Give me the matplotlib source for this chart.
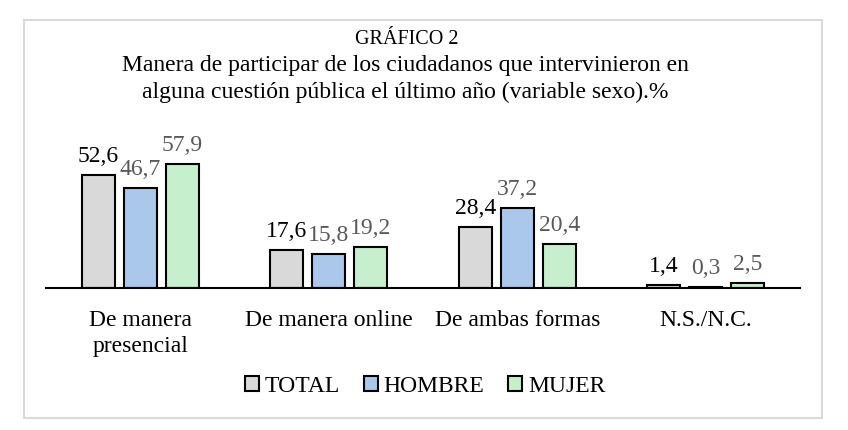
import numpy as np
import matplotlib
matplotlib.use("Agg")
import matplotlib.pyplot as plt
from matplotlib.patches import Rectangle

plt.rcParams['font.family'] = ['Liberation Serif', 'DejaVu Serif']

categorias = ['De manera\npresencial', 'De manera online', 'De ambas formas', 'N.S./N.C.']
total = [52.6, 17.6, 28.4, 1.4]
hombre = [46.7, 15.8, 37.2, 0.3]
mujer = [57.9, 19.2, 20.4, 2.5]
series = ['TOTAL', 'HOMBRE', 'MUJER']
colores = ['#d9d9d9', '#a9c8ec', '#c6efce']
color_etiqueta = ['black', '#595959', '#595959']

fig = plt.figure(figsize=(8.48, 4.30), dpi=100)
# marco gris
fig.patches.append(Rectangle((24 / 848, 12 / 430), 798 / 848, 398 / 430,
                             transform=fig.transFigure, fill=False,
                             edgecolor='#d9d9d9', linewidth=1.5))

ax = fig.add_axes([46 / 848, 142 / 430, 754 / 848, 129 / 430])
x = np.arange(len(categorias))
paso = 0.223
ancho = 0.175
for i, (vals, nombre) in enumerate(zip([total, hombre, mujer], series)):
    pos = x + (i - 1) * paso
    barras = ax.bar(pos, vals, ancho, color=colores[i], edgecolor='black',
                    linewidth=1.5, label=nombre)
    for p, v in zip(pos, vals):
        ax.text(p, v + 3.7, f'{v:.1f}'.replace('.', ','), ha='center', va='bottom',
                fontsize=17, color=color_etiqueta[i])

ax.set_xlim(-0.5, 3.5)
ax.set_ylim(0, 60)
ax.set_yticks([])
for s in ['top', 'right', 'left']:
    ax.spines[s].set_visible(False)
ax.spines['bottom'].set_linewidth(1.5)
ax.set_xticks(x)
ax.set_xticklabels(categorias, fontsize=17, linespacing=1.3, va='top')
ax.tick_params(axis='x', length=0, pad=16)

fig.text(407 / 848, 1 - 40 / 430, 'GRÁFICO 2', ha='center', va='center', fontsize=14.5)
fig.text(405 / 848, 1 - 79 / 430,
         'Manera de participar de los ciudadanos que intervinieron en\n'
         'alguna cuestión pública el último año (variable sexo).%',
         ha='center', va='center', fontsize=17, linespacing=1.33)

fig.legend(loc='center', bbox_to_anchor=(425 / 848, 1 - 386 / 430), ncol=3,
           frameon=False, fontsize=17, handlelength=0.6, handleheight=0.6,
           handletextpad=0.25, columnspacing=1.0)

fig.savefig('out.png', dpi=100)
